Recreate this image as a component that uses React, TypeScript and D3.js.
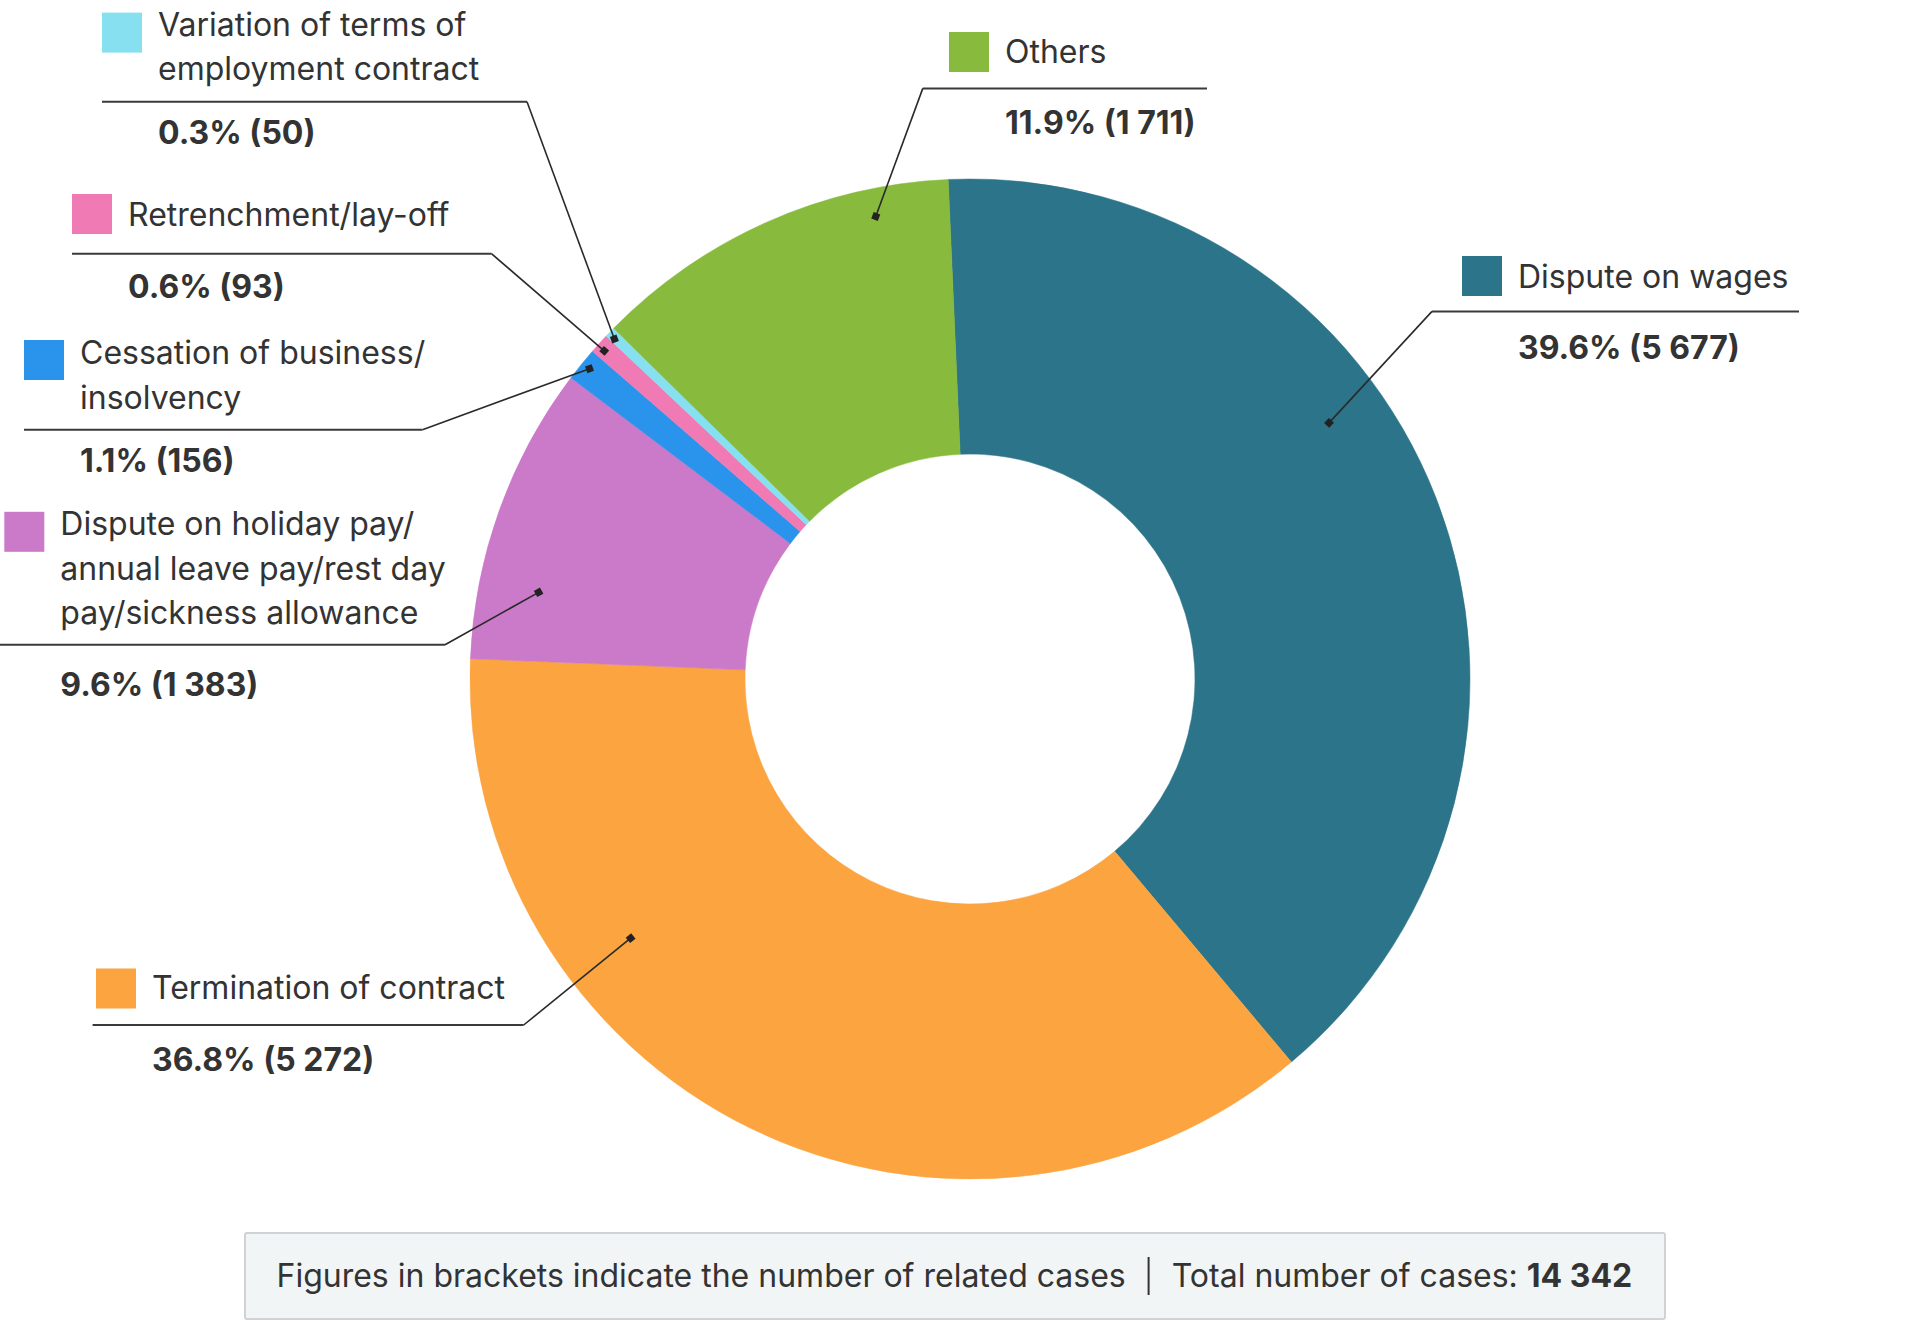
import React from "react";
import * as d3 from "d3";

// ---------- data ----------
const categories: string[] = [
  "Dispute on wages",
  "Termination of contract",
  "Dispute on holiday pay/annual leave pay/rest day pay/sickness allowance",
  "Cessation of business/insolvency",
  "Retrenchment/lay-off",
  "Variation of terms of employment contract",
  "Others",
];
const cases: number[] = [5677, 5272, 1383, 156, 93, 50, 1711];
const labelLines: string[][] = [
  ["Dispute on wages"],
  ["Termination of contract"],
  ["Dispute on holiday pay/", "annual leave pay/rest day", "pay/sickness allowance"],
  ["Cessation of business/", "insolvency"],
  ["Retrenchment/lay-off"],
  ["Variation of terms of", "employment contract"],
  ["Others"],
];
const footerNote = "Figures in brackets indicate the number of related cases";
const footerTotalLabel = "Total number of cases: ";

// ---------- styles / layout ----------
const colors = ["#2C7489", "#FBA440", "#CB79C9", "#2A93EC", "#F07AB4", "#86E0EF", "#87BA3D"];
const W = 1910;
const H = 1320;
const CX = 970;
const CY = 679;
const R_OUT = 500;
const R_IN = 225;
const START_DEG = -2.5;
const FONT = "Inter, 'Noto Sans', sans-serif";
const FS = 32;
const LINE_H = 44.5;
const TEXT_COLOR = "#333333";

// label layout: square (sq, sqY), first text baseline ty, underline (x1..x2 at y), value baseline vy,
// connect side, anchor inside slice (t along angle, radius)
const labelLayout = [
  { sq: 1462, sqY: 256, ty: 287.5, x1: 1432, x2: 1799, y: 311.4, vy: 359.3, side: "right", t: 0.40, r: 441 },
  { sq: 96, sqY: 968.5, ty: 998.8, x1: 92.6, x2: 523.7, y: 1025, vy: 1070.5, side: "left", t: 0.70, r: 427 },
  { sq: 4.3, sqY: 511.8, ty: 535.4, x1: 0, x2: 445, y: 644.8, vy: 696.4, side: "left", t: 0.26, r: 440 },
  { sq: 24, sqY: 340, ty: 364, x1: 24, x2: 422.5, y: 429.7, vy: 471.5, side: "left", t: 0.55, r: 491 },
  { sq: 72, sqY: 194, ty: 226.4, x1: 72, x2: 491.7, y: 253.8, vy: 298.1, side: "left", t: 0.40, r: 491.4 },
  { sq: 102, sqY: 12.6, ty: 35.8, x1: 102, x2: 527, y: 101.8, vy: 143.6, side: "left", t: 0.33, r: 492 },
  { sq: 949, sqY: 32, ty: 63, x1: 922.8, x2: 1207, y: 88.4, vy: 133.9, side: "right", t: 0.79, r: 472 },
];

const locale = d3.formatLocale({ decimal: ".", thousands: "\u2009", grouping: [3], currency: ["", ""] });
const fmtInt = (v: number) => locale.format(",d")(v).replace(/\u2009/g, " ");
const fmtPct = d3.format(".1f");

export default function App() {
  const total = d3.sum(cases);
  const toRad = (deg: number) => (deg * Math.PI) / 180;
  const pie = d3
    .pie<number>()
    .sort(null)
    .value((d) => d)
    .startAngle(toRad(START_DEG))
    .endAngle(toRad(START_DEG + 360));
  const arcs = pie(cases);
  const arcGen = d3.arc<d3.PieArcDatum<number>>().innerRadius(R_IN).outerRadius(R_OUT);

  return (
    <svg
      width={W}
      height={H}
      viewBox={`0 0 ${W} ${H}`}
      style={{ position: "absolute", left: 0, top: 0, display: "block", background: "#fff" }}
      fontFamily={FONT}
    >
      <g transform={`translate(${CX},${CY})`}>
        {arcs.map((a, i) => (
          <path key={i} d={arcGen(a) || ""} fill={colors[i]} stroke={colors[i]} strokeWidth={0.5}>
            <title>{categories[i]}</title>
          </path>
        ))}
      </g>

      {arcs.map((a, i) => {
        const L = labelLayout[i];
        const ang = a.startAngle + (a.endAngle - a.startAngle) * L.t;
        const px = CX + L.r * Math.sin(ang);
        const py = CY - L.r * Math.cos(ang);
        const cxp = L.side === "right" ? L.x1 : L.x2;
        const lines = labelLines[i];
        const textX = L.sq + 56;
        const rot = (Math.atan2(py - L.y, px - cxp) * 180) / Math.PI;
        const pct = fmtPct((cases[i] / total) * 100);
        return (
          <g key={i}>
            <rect x={L.sq} y={L.sqY} width={40} height={40} fill={colors[i]} />
            <text x={textX} y={L.ty} fontSize={FS} fill={TEXT_COLOR}>
              {lines.map((ln, j) => (
                <tspan key={j} x={textX} y={L.ty + j * LINE_H}>
                  {ln}
                </tspan>
              ))}
            </text>
            <line x1={L.x1} x2={L.x2} y1={L.y} y2={L.y} stroke="#3a3a3a" strokeWidth={2} />
            <line x1={cxp} y1={L.y} x2={px} y2={py} stroke="#2a2a2a" strokeWidth={1.6} />
            <rect
              x={-3.5}
              y={-3.5}
              width={7}
              height={7}
              fill="#222"
              transform={`translate(${px},${py}) rotate(${rot})`}
            />
            <text x={textX} y={L.vy} fontSize={FS} fontWeight={700} fill={TEXT_COLOR}>
              {`${pct}% (${fmtInt(cases[i])})`}
            </text>
          </g>
        );
      })}

      {/* footer */}
      <rect x={245} y={1233} width={1420} height={86} fill="#F2F5F6" stroke="#D0D3D5" strokeWidth={2} rx={2} />
      <text x={276.5} y={1287} fontSize={FS} fill={TEXT_COLOR}>
        {footerNote}
      </text>
      <line x1={1148.6} x2={1148.6} y1={1257} y2={1295} stroke="#333" strokeWidth={2} />
      <text x={1171.7} y={1287} fontSize={FS} fill={TEXT_COLOR}>
        {footerTotalLabel}
        <tspan fontWeight={700}>{fmtInt(total)}</tspan>
      </text>
    </svg>
  );
}
